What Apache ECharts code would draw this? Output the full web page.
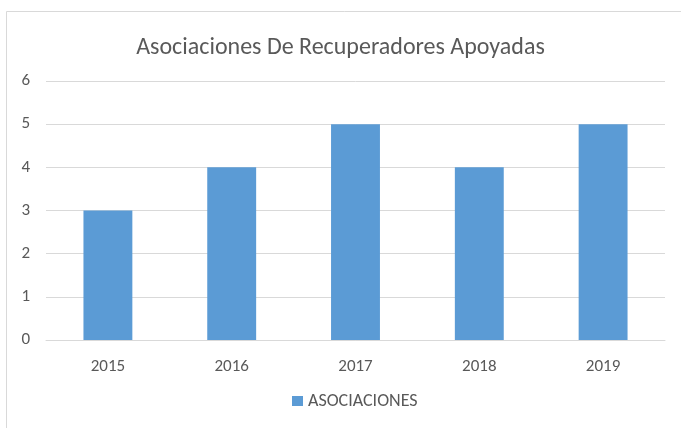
<!DOCTYPE html>
<html>
<head>
<meta charset="utf-8">
<script src="https://cdn.jsdelivr.net/npm/echarts@6/dist/echarts.min.js"></script>
<style>
html,body{margin:0;padding:0;background:#fff;}
#chart{width:681px;height:428px;}
</style>
</head>
<body>
<div id="chart"></div>
<script>
const titleText = "Asociaciones De Recuperadores Apoyadas";
const categories = ["2015", "2016", "2017", "2018", "2019"];
const seriesName = "ASOCIACIONES";
const values = [3, 4, 5, 4, 5];

const chart = echarts.init(document.getElementById('chart'));
const font = "Carlito, Calibri, 'Liberation Sans', sans-serif";
chart.setOption({
  animation: false,
  backgroundColor: '#ffffff',
  graphic: [{
    type: 'rect',
    shape: { x: 6.5, y: 11.5, width: 720, height: 500 },
    style: { fill: 'none', stroke: '#d9d9d9', lineWidth: 1 },
    silent: true
  }],
  title: {
    text: titleText,
    left: 'center',
    top: 31,
    textStyle: { color: '#595959', fontSize: 24, fontWeight: 'normal', fontFamily: font }
  },
  legend: {
    bottom: 13,
    left: 287,
    itemWidth: 11,
    itemHeight: 10,
    itemGap: 4,
    icon: 'rect',
    textStyle: { color: '#595959', fontSize: 18, fontFamily: font },
    data: [seriesName]
  },
  grid: { left: 46, right: 16, top: 81, bottom: 88, containLabel: false },
  xAxis: {
    type: 'category',
    data: categories,
    axisLine: { lineStyle: { color: '#d9d9d9' } },
    axisTick: { show: false },
    axisLabel: { color: '#595959', fontSize: 17, fontFamily: font, margin: 18 }
  },
  yAxis: {
    type: 'value',
    min: 0, max: 6, interval: 1,
    axisLine: { show: false },
    axisTick: { show: false },
    splitLine: { lineStyle: { color: '#d9d9d9' } },
    axisLabel: { color: '#595959', fontSize: 17, fontFamily: font, margin: 16 }
  },
  series: [{
    name: seriesName,
    type: 'bar',
    data: values,
    barWidth: '39.5%',
    itemStyle: { color: '#5b9bd5' }
  }]
});
</script>
</body>
</html>
